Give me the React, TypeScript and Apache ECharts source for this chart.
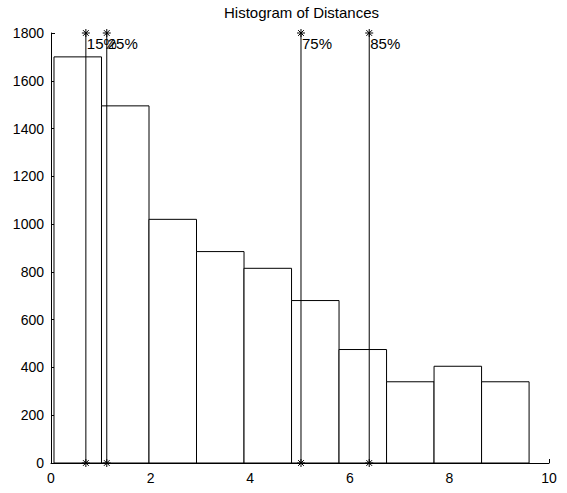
import React, { useEffect, useRef } from "react";
import * as echarts from "echarts";

const TITLE = "Histogram of Distances";
const BIN_EDGES = [0.06, 1.014, 1.968, 2.922, 3.876, 4.83, 5.784, 6.738, 7.692, 8.646, 9.6];
const COUNTS = [1700, 1495, 1020, 885, 815, 680, 475, 340, 405, 340];
const PERCENTILE_VALUES = [0.7, 1.12, 5.02, 6.39];
const PERCENTILE_LABELS = ["15%", "25%", "75%", "85%"];
const X_MIN = 0;
const X_MAX = 10;
const X_STEP = 2;
const Y_MIN = 0;
const Y_MAX = 1800;
const Y_STEP = 200;

const FONT = "Liberation Sans, Arial, Helvetica, sans-serif";

function star(cx: number, cy: number, r: number) {
  const d = r * 0.72;
  const seg = (x1: number, y1: number, x2: number, y2: number) => ({
    type: "line",
    shape: { x1, y1, x2, y2 },
    style: { stroke: "#000", lineWidth: 1 },
  });
  return [
    seg(cx, cy - r, cx, cy + r),
    seg(cx - r, cy, cx + r, cy),
    seg(cx - d, cy - d, cx + d, cy + d),
    seg(cx - d, cy + d, cx + d, cy - d),
  ];
}

export default function App() {
  const ref = useRef<HTMLDivElement>(null);
  useEffect(() => {
    if (!ref.current) return;
    const chart = echarts.init(ref.current, undefined, { renderer: "svg" });
    const barData = COUNTS.map((c, i) => [BIN_EDGES[i], BIN_EDGES[i + 1], c]);
    const pctData = PERCENTILE_VALUES.map((v) => [v]);
    chart.setOption({
      animation: false,
      backgroundColor: "#fff",
      title: {
        text: TITLE,
        left: 219,
        top: 0,
        textStyle: { fontFamily: FONT, fontSize: 15, fontWeight: "normal", color: "#000" },
      },
      grid: { left: 51, right: 18, top: 33, bottom: 30, containLabel: false },
      xAxis: {
        type: "value",
        min: X_MIN,
        max: X_MAX,
        interval: X_STEP,
        axisLine: { show: true, lineStyle: { color: "#000", width: 1 } },
        axisTick: { show: true, inside: true, length: 4, lineStyle: { color: "#000" } },
        axisLabel: {
          color: "#000",
          fontFamily: FONT,
          fontSize: 14,
          margin: 8,
          formatter: (v: number) => String(v),
        },
        splitLine: { show: false },
      },
      yAxis: {
        type: "value",
        min: Y_MIN,
        max: Y_MAX,
        interval: Y_STEP,
        axisLine: { show: true, lineStyle: { color: "#000", width: 1 } },
        axisTick: { show: true, inside: true, length: 4, lineStyle: { color: "#000" } },
        axisLabel: {
          color: "#000",
          fontFamily: FONT,
          fontSize: 14,
          margin: 7,
          formatter: (v: number) => String(v),
        },
        splitLine: { show: false },
      },
      series: [
        {
          type: "custom",
          data: barData,
          encode: { x: [0, 1], y: 2 },
          renderItem: (params: any, api: any) => {
            const p0 = api.coord([api.value(0), api.value(2)]);
            const p1 = api.coord([api.value(1), 0]);
            return {
              type: "rect",
              shape: { x: p0[0], y: p0[1], width: p1[0] - p0[0], height: p1[1] - p0[1] },
              style: { fill: "#fff", stroke: "#000", lineWidth: 1 },
            };
          },
          z: 2,
        },
        {
          type: "custom",
          data: pctData,
          encode: { x: 0 },
          renderItem: (params: any, api: any) => {
            const x = api.value(0);
            const top = api.coord([x, Y_MAX]);
            const bot = api.coord([x, Y_MIN]);
            return {
              type: "group",
              children: [
                {
                  type: "line",
                  shape: { x1: top[0], y1: top[1], x2: bot[0], y2: bot[1] },
                  style: { stroke: "#000", lineWidth: 1 },
                },
                ...star(top[0], top[1], 4),
                ...star(bot[0], bot[1], 4),
                {
                  type: "text",
                  style: {
                    text: PERCENTILE_LABELS[params.dataIndex],
                    x: top[0] + 1,
                    y: top[1] + 10,
                    align: "left",
                    verticalAlign: "middle",
                    font: `15px ${FONT}`,
                    fill: "#000",
                  },
                },
              ],
            };
          },
          z: 3,
        },
      ],
    });
    return () => chart.dispose();
  }, []);
  return (
    <div
      ref={ref}
      style={{ position: "fixed", left: 0, top: 0, width: 567, height: 493, background: "#fff" }}
    />
  );
}
